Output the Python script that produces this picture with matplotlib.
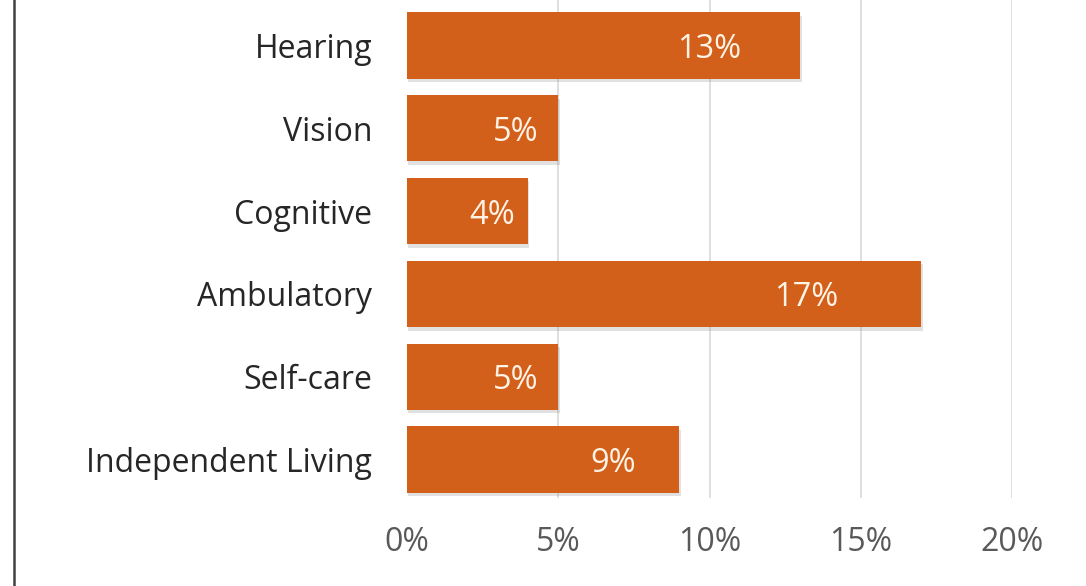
import matplotlib
matplotlib.use("Agg")
import matplotlib.pyplot as plt
from matplotlib.lines import Line2D
import matplotlib.patheffects as pe

categories = ["Independent Living", "Self-care", "Ambulatory", "Cognitive", "Vision", "Hearing"]
values = [9, 5, 17, 4, 5, 13]
xticks = [0, 5, 10, 15, 20]
xtick_labels = ["0%", "5%", "10%", "15%", "20%"]

plt.rcParams['font.family'] = ['Open Sans', 'DejaVu Sans']

fig = plt.figure(figsize=(10.86, 5.86), dpi=100)
ax = fig.add_axes([407/1086, 1 - 498/586, (1012 - 407)/1086, 498/586])

bar_color = "#D2601A"
ypos = list(range(len(categories)))
bars = ax.barh(ypos, values, height=0.8, color=bar_color, zorder=3)
for b in bars:
    b.set_path_effects([pe.SimplePatchShadow(offset=(1.0, -2.5), shadow_rgbFace="#8a8a8a", alpha=0.25),
                        pe.Normal()])

for y, v in zip(ypos, values):
    ax.text(v * 0.8 - 0.4, y, f"{v}%", ha="center", va="center_baseline",
            color="#FFF3E6", fontsize=23.5, zorder=4)

ax.set_xlim(0, 20)
ax.set_ylim(-0.465, 5.55)
ax.set_yticks(ypos)
ax.set_yticklabels(categories, fontsize=23, color="#262626")
ax.set_xticks(xticks)
ax.set_xticklabels(xtick_labels, fontsize=23, color="#595959")
ax.tick_params(axis="y", length=0, pad=25)
ax.tick_params(axis="x", length=0, pad=20)
for s in ax.spines.values():
    s.set_visible(False)
ax.grid(axis="x", color="#D9D9D9", linewidth=1.2, zorder=0)
ax.xaxis.get_gridlines()[0].set_visible(False)
ax.set_axisbelow(True)

fig.add_artist(Line2D([14/1086, 14/1086], [0, 1], color="#404040", linewidth=1.8,
                      transform=fig.transFigure))

fig.savefig("out.png", dpi=100, facecolor="white")
